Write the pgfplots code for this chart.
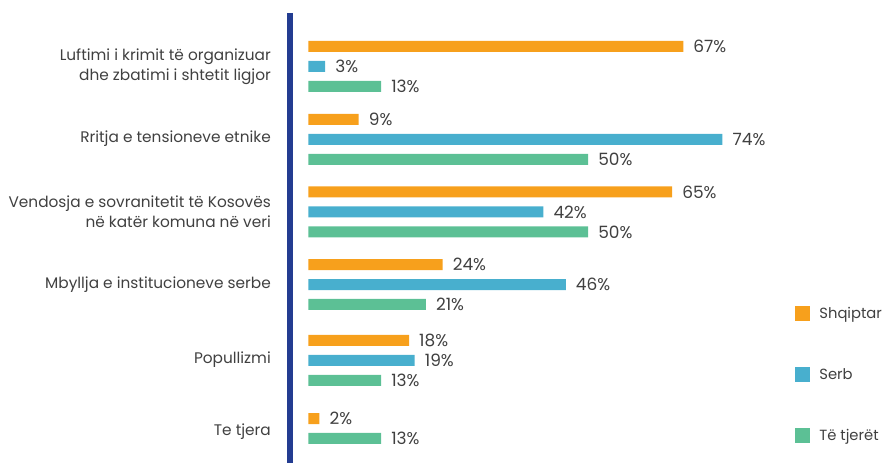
\documentclass[border=0pt]{standalone}
\usepackage{pgfplots}
\pgfplotsset{compat=1.18}
\usepackage{fontspec}
\setmainfont{Poppins}
\definecolor{cor}{RGB}{247,160,28}
\definecolor{cbl}{RGB}{72,175,206}
\definecolor{cgr}{RGB}{92,192,149}
\definecolor{navy}{RGB}{35,60,145}
\definecolor{txt}{RGB}{64,64,64}
\begin{document}
\begin{tikzpicture}[x=1bp,y=1bp]
\useasboundingbox (0,0) rectangle (887,463);
\begin{axis}[
  at={(290bp,0bp)}, anchor=south west,
  scale only axis, width=597bp, height=450bp,
  xmin=-3.27, xmax=103.4, ymin=13, ymax=463, y dir=reverse,
  axis x line=none, axis y line*=left,
  y axis line style={draw=navy, line width=6bp, -},
  ytick={67,139,212,285,360,432},
  yticklabels={{Luftimi i krimit të organizuar\\dhe zbatimi i shtetit ligjor},
    {Rritja e tensioneve etnike},
    {Vendosja e sovranitetit të Kosovës\\në katër komuna në veri},
    {Mbyllja e institucioneve serbe},
    {Popullizmi},
    {Te tjera}},
  yticklabel style={align=right, font=\fontsize{15.4}{20}\selectfont, text=txt, inner sep=0pt, xshift=-19bp},
  major tick length=0pt,
  clip=false,
  /pgf/number format/assume math mode=true,
  xbar, bar width=11bp, bar shift=0pt,
  nodes near coords={\pgfmathprintnumber{\pgfplotspointmeta}\%},
  every node near coord/.append style={anchor=west, inner sep=0pt, xshift=10bp, font=\fontsize{17}{18}\selectfont, text=txt},
  legend image code/.code={\fill[#1,draw=none] (0bp,-7.5bp) rectangle (15bp,7.5bp);},
  legend style={draw=none, fill=none, at={(axis cs:87,306)}, anchor=north west,
    font=\fontsize{14.8}{16}\selectfont, text=txt, row sep=46bp, inner sep=0pt,
    nodes={inner sep=0pt},
    /tikz/every odd column/.append style={column sep=9bp}},
  legend cell align=left,
]
\addplot[fill=cor, draw=none] coordinates {(67,46.5) (9,119.5) (65,192) (24,264.7) (18,340.5) (2,418.7)};
\addlegendentry{Shqiptar}
\addplot[fill=cbl, draw=none] coordinates {(3,66.5) (74,139.5) (42,212) (46,284.7) (19,360.3)};
\addlegendentry{Serb}
\addplot[fill=cgr, draw=none] coordinates {(13,86.5) (50,159.5) (50,232) (21,304.5) (13,380.3) (13,438.3)};
\addlegendentry{Të tjerët}
\end{axis}
\end{tikzpicture}
\end{document}
